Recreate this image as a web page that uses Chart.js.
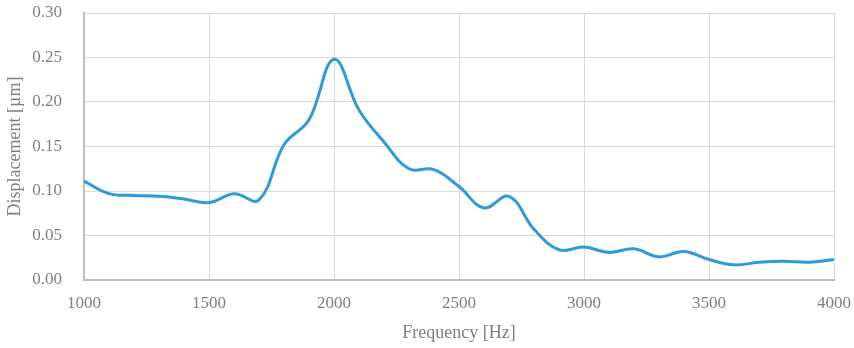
<!DOCTYPE html>
<html>
<head>
<meta charset="utf-8">
<script src="https://cdn.jsdelivr.net/npm/chart.js@4/dist/chart.umd.min.js"></script>
<style>
  html, body { margin: 0; padding: 0; background: #fff; }
  #wrap { width: 854px; height: 348px; }
</style>
</head>
<body>
<div id="wrap"><canvas id="dispChart"></canvas></div>
<script>
// frequency [Hz] and displacement [um]
const freq = [1000, 1100, 1200, 1300, 1400, 1500, 1600, 1700, 1800, 1900,
              2000, 2100, 2200, 2300, 2400, 2500, 2600, 2700, 2800, 2900,
              3000, 3100, 3200, 3300, 3400, 3500, 3600, 3700, 3800, 3900, 4000];
const disp = [0.111, 0.097, 0.095, 0.094, 0.091, 0.087, 0.097, 0.090, 0.152, 0.180,
              0.248, 0.191, 0.155, 0.125, 0.124, 0.105, 0.081, 0.094, 0.057, 0.034,
              0.037, 0.031, 0.035, 0.026, 0.032, 0.023, 0.017, 0.020, 0.021, 0.020, 0.023];
const xTicks = [1000, 1500, 2000, 2500, 3000, 3500, 4000];
const yTicks = [0, 0.05, 0.10, 0.15, 0.20, 0.25, 0.30];

document.addEventListener('DOMContentLoaded', function() {
    const ctx = document.getElementById('dispChart');
    const tickFont = { family: "'Liberation Serif', 'DejaVu Serif', serif", size: 17 };
    const titleFont = { family: "'Liberation Serif', 'DejaVu Serif', serif", size: 18 };

    new Chart(ctx, {
        type: 'line',
        data: {
            datasets: [{
                label: 'Displacement',
                data: freq.map((f, i) => ({ x: f, y: disp[i] })),
                borderColor: '#2e9bd6',
                borderWidth: 3,
                tension: 0.4,
                pointRadius: 0,
                fill: false,
                clip: 4
            }]
        },
        options: {
            responsive: true,
            maintainAspectRatio: false,
            animation: false,
            layout: { autoPadding: false, padding: { top: 13, right: 20, left: 0, bottom: 0 } },
            plugins: {
                legend: { display: false },
                tooltip: { enabled: false }
            },
            scales: {
                x: {
                    type: 'linear',
                    min: 1000,
                    max: 4000,
                    afterBuildTicks: function(axis) {
                        axis.ticks = xTicks.map(v => ({ value: v }));
                    },
                    afterFit: function(axis) {
                        axis.height = 68;
                        axis.paddingLeft = 0;
                        axis.paddingRight = 0;
                    },
                    grid: { color: '#d9d9d9', lineWidth: 1, drawTicks: false },
                    border: { color: '#bfbfbf', width: 2 },
                    ticks: {
                        color: '#7f7f7f',
                        font: tickFont,
                        padding: 13,
                        maxRotation: 0,
                        callback: function(v) { return String(v); }
                    },
                    title: { display: true, text: 'Frequency [Hz]', color: '#7f7f7f', font: titleFont, padding: { top: 2 } }
                },
                y: {
                    type: 'linear',
                    min: 0,
                    max: 0.3,
                    afterBuildTicks: function(axis) {
                        axis.ticks = yTicks.map(v => ({ value: v }));
                    },
                    afterFit: function(axis) {
                        axis.width = 84;
                        axis.paddingTop = 0;
                        axis.paddingBottom = 0;
                    },
                    grid: { color: '#d9d9d9', lineWidth: 1, drawTicks: false },
                    border: { color: '#bfbfbf', width: 2 },
                    ticks: {
                        color: '#7f7f7f',
                        font: tickFont,
                        padding: 22,
                        callback: function(v) { return v.toFixed(2); }
                    },
                    title: { display: true, text: 'Displacement [µm]', color: '#7f7f7f', font: titleFont, padding: { bottom: 0 } }
                }
            }
        }
    });
});
</script>
</body>
</html>
